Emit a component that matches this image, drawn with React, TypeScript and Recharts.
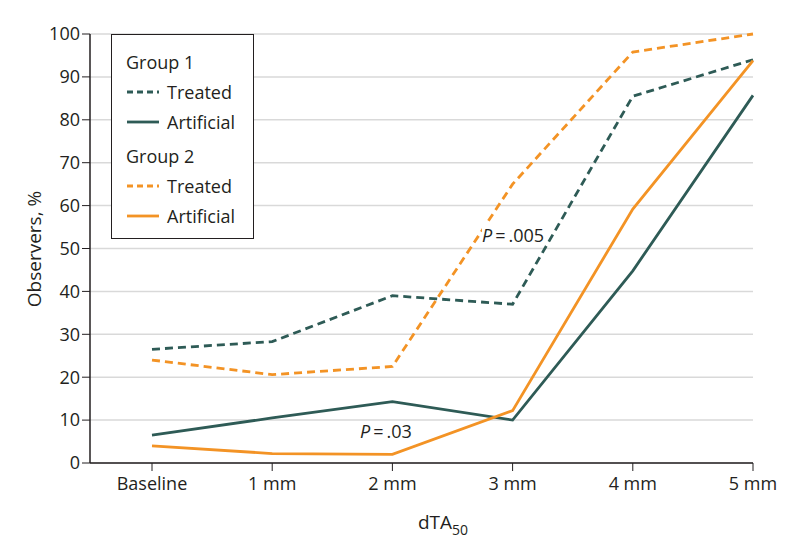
import { LineChart, Line, XAxis, YAxis, CartesianGrid } from 'recharts'

const categories = ['Baseline', '1 mm', '2 mm', '3 mm', '4 mm', '5 mm']
const group1Treated = [26.5, 28.3, 39, 37, 85.5, 94]
const group1Artificial = [6.5, 10.5, 14.3, 10, 44.8, 85.7]
const group2Treated = [24, 20.6, 22.5, 65, 95.8, 100]
const group2Artificial = [4, 2.2, 2, 12.2, 59.2, 93.8]
const yTicks = [0, 10, 20, 30, 40, 50, 60, 70, 80, 90, 100]

const TEAL = '#2e5b56'
const ORANGE = '#f39325'
const FONT = '"Open Sans", Lato, sans-serif'
const INK = '#231f20'

const data = categories.map((c, i) => ({
  category: c,
  g1t: group1Treated[i],
  g1a: group1Artificial[i],
  g2t: group2Treated[i],
  g2a: group2Artificial[i],
}))

function LegendRow({ color, dashed, label }: { color: string; dashed?: boolean; label: string }) {
  return (
    <div style={{ display: 'flex', alignItems: 'center', height: 30 }}>
      <svg width={34} height={10} style={{ marginRight: 7 }}>
        <line x1={1} y1={5} x2={33} y2={5} stroke={color} strokeWidth={2.8} strokeDasharray={dashed ? '6 4' : undefined} />
      </svg>
      <span>{label}</span>
    </div>
  )
}

export default function App() {
  return (
    <div style={{ position: 'relative', width: 786, height: 541, fontFamily: FONT, color: INK }}>
      <LineChart width={786} height={541} data={data} margin={{ top: 26, right: 41, bottom: 0, left: 0 }}>
        <CartesianGrid vertical={false} stroke="#d9d9d9" strokeWidth={1.5} />
        <XAxis
          dataKey="category"
          padding={{ left: 62, right: 0 }}
          height={86}
          tickSize={8}
          axisLine={{ stroke: INK, strokeWidth: 1.5 }}
          tickLine={{ stroke: INK, strokeWidth: 1 }}
          tick={{ fill: INK, fontSize: 18, fontFamily: FONT }}
          tickMargin={6}
          label={{
            content: () => (
              <text x={410} y={521} fill={INK} fontSize={19} fontFamily={FONT}>
                dTA<tspan fontSize={14} dy={6}>50</tspan>
              </text>
            ),
          }}
        />
        <YAxis
          width={82}
          domain={[0, 100]}
          ticks={yTicks}
          interval={0}
          tickSize={8}
          axisLine={{ stroke: INK, strokeWidth: 1.5 }}
          tickLine={{ stroke: INK, strokeWidth: 1 }}
          tick={{ fill: INK, fontSize: 18, fontFamily: FONT }}
          tickMargin={2}
          label={{
            content: () => (
              <text x={33} y={241} fill={INK} fontSize={19} fontFamily={FONT} textAnchor="middle" transform="rotate(-90 33 241)">
                Observers, %
              </text>
            ),
          }}
        />
        <Line dataKey="g1t" stroke={TEAL} strokeWidth={2.8} strokeDasharray="8 5" dot={false} isAnimationActive={false} />
        <Line dataKey="g1a" stroke={TEAL} strokeWidth={2.8} dot={false} isAnimationActive={false} />
        <Line dataKey="g2t" stroke={ORANGE} strokeWidth={2.8} strokeDasharray="8 5" dot={false} isAnimationActive={false} />
        <Line dataKey="g2a" stroke={ORANGE} strokeWidth={2.8} dot={false} isAnimationActive={false} />
      </LineChart>

      {/* legend box */}
      <div
        style={{
          position: 'absolute',
          left: 103,
          top: 26,
          width: 143,
          height: 205,
          boxSizing: 'border-box',
          border: `1.5px solid ${INK}`,
          background: '#fff',
          padding: '12px 0 0 14px',
          fontSize: 18,
        }}
      >
        <div style={{ height: 30, display: 'flex', alignItems: 'center' }}>Group 1</div>
        <LegendRow color={TEAL} dashed label="Treated" />
        <LegendRow color={TEAL} label="Artificial" />
        <div style={{ height: 30, marginTop: 4, display: 'flex', alignItems: 'center' }}>Group 2</div>
        <LegendRow color={ORANGE} dashed label="Treated" />
        <LegendRow color={ORANGE} label="Artificial" />
      </div>

      {/* annotations */}
      <div style={{ position: 'absolute', left: 474, top: 216, fontSize: 18, background: '#fff', lineHeight: '22px' }}>
        <i>P</i>&#8201;=&#8201;.005
      </div>
      <div style={{ position: 'absolute', left: 352, top: 412, fontSize: 18, lineHeight: '22px' }}>
        <i>P</i>&#8201;=&#8201;.03
      </div>
    </div>
  )
}
